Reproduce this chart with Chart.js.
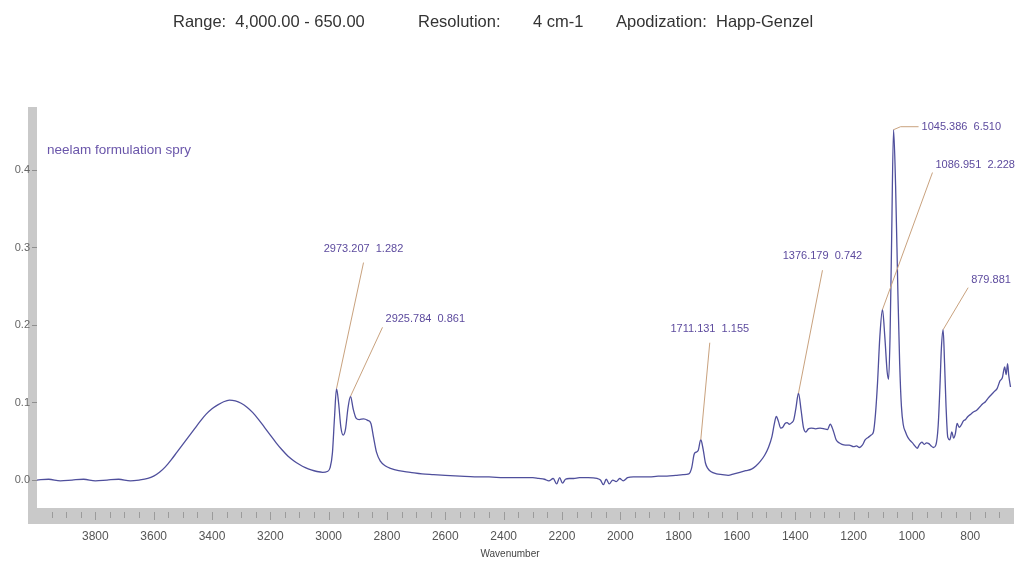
<!DOCTYPE html>
<html>
<head>
<meta charset="utf-8">
<script src="https://cdn.jsdelivr.net/npm/chart.js@4"></script>
<style>
  html, body { margin: 0; padding: 0; background: #fff; }
  #wrap { width: 1015px; height: 565px; }
</style>
</head>
<body>
<div id="wrap"><canvas id="myChart" width="1015" height="565"></canvas></div>
<script>
// spectrum (wavenumber cm-1 / absorbance)
var wavenumbers = [
  4000, 3960, 3920, 3880, 3840, 3800, 3760, 3720, 3680, 3650,
  3620, 3600, 3580, 3560, 3540, 3520, 3500, 3480, 3460, 3440,
  3420, 3400, 3380, 3360, 3340, 3320, 3300, 3280, 3260, 3240,
  3220, 3200, 3180, 3160, 3140, 3120, 3100, 3080, 3060, 3040,
  3020, 3005, 2995, 2987, 2980, 2973, 2966, 2958, 2950, 2942,
  2934, 2925, 2916, 2906, 2895, 2880, 2866, 2855, 2846, 2836,
  2822, 2805, 2788, 2760, 2720, 2680, 2640, 2600, 2550, 2500,
  2450, 2400, 2350, 2300, 2280, 2260, 2245, 2230, 2218, 2208,
  2198, 2188, 2175, 2160, 2140, 2110, 2080, 2068, 2058, 2048,
  2038, 2026, 2014, 2002, 1990, 1975, 1955, 1930, 1900, 1870,
  1840, 1810, 1785, 1765, 1755, 1747, 1740, 1733, 1724, 1716,
  1708, 1700, 1690, 1670, 1650, 1630, 1610, 1590, 1570, 1550,
  1535, 1520, 1505, 1492, 1480, 1472, 1465, 1458, 1450, 1443,
  1435, 1428, 1420, 1412, 1405, 1398, 1389, 1380, 1372, 1364,
  1355, 1345, 1330, 1315, 1300, 1290, 1280, 1270, 1260, 1250,
  1240, 1228, 1215, 1200, 1190, 1180, 1170, 1160, 1150, 1140,
  1132, 1125, 1118, 1110, 1101, 1093, 1085, 1080, 1075, 1070,
  1063, 1056, 1048, 1042, 1036, 1030, 1022, 1014, 1006, 998,
  990, 982, 974, 966, 958, 950, 942, 934, 926, 918,
  910, 904, 899, 893, 888, 883, 877, 870, 863, 857,
  851, 845, 838, 831, 824, 816, 808, 798, 788, 778,
  768, 758, 748, 738, 728, 718, 708, 698, 690, 682,
  677, 672, 668, 662
]
var absorbance = [
  0.000, 0.001, -0.001, 0.000, 0.001, -0.001, 0.000, 0.001, -0.001, 0.000,
  0.002, 0.005, 0.010, 0.017, 0.026, 0.036, 0.046, 0.056, 0.066, 0.076,
  0.085, 0.092, 0.097, 0.101, 0.103, 0.102, 0.099, 0.094, 0.087, 0.078,
  0.068, 0.058, 0.048, 0.039, 0.031, 0.025, 0.020, 0.016, 0.013, 0.011,
  0.010, 0.011, 0.016, 0.035, 0.080, 0.118, 0.100, 0.068, 0.058, 0.066,
  0.092, 0.108, 0.092, 0.080, 0.078, 0.079, 0.077, 0.073, 0.055, 0.036,
  0.024, 0.018, 0.015, 0.012, 0.010, 0.008, 0.007, 0.006, 0.005, 0.004,
  0.004, 0.003, 0.003, 0.003, 0.002, 0.001, -0.001, 0.002, -0.005, 0.003,
  -0.004, 0.001, 0.002, 0.002, 0.003, 0.003, 0.002, 0.000, -0.006, 0.001,
  -0.005, 0.000, -0.002, 0.002, -0.001, 0.003, 0.004, 0.004, 0.004, 0.005,
  0.005, 0.006, 0.007, 0.008, 0.016, 0.033, 0.036, 0.038, 0.052, 0.040,
  0.022, 0.015, 0.011, 0.008, 0.007, 0.006, 0.008, 0.010, 0.012, 0.014,
  0.018, 0.024, 0.032, 0.042, 0.056, 0.072, 0.082, 0.076, 0.067, 0.068,
  0.073, 0.074, 0.072, 0.074, 0.078, 0.092, 0.112, 0.090, 0.068, 0.062,
  0.066, 0.067, 0.066, 0.067, 0.066, 0.065, 0.072, 0.064, 0.052, 0.048,
  0.046, 0.045, 0.045, 0.043, 0.044, 0.042, 0.045, 0.052, 0.055, 0.058,
  0.062, 0.085, 0.125, 0.185, 0.220, 0.185, 0.140, 0.130, 0.185, 0.300,
  0.452, 0.380, 0.240, 0.150, 0.095, 0.072, 0.062, 0.055, 0.051, 0.048,
  0.044, 0.041, 0.046, 0.049, 0.046, 0.048, 0.047, 0.044, 0.042, 0.045,
  0.070, 0.120, 0.170, 0.194, 0.150, 0.095, 0.055, 0.052, 0.062, 0.054,
  0.060, 0.073, 0.068, 0.071, 0.076, 0.078, 0.082, 0.085, 0.088, 0.090,
  0.094, 0.098, 0.101, 0.106, 0.110, 0.114, 0.118, 0.128, 0.132, 0.146,
  0.136, 0.150, 0.135, 0.120
]
var xTickValues = [3800, 3600, 3400, 3200, 3000, 2800, 2600, 2400, 2200, 2000, 1800, 1600, 1400, 1200, 1000, 800]
var yTickValues = [0.0, 0.1, 0.2, 0.3, 0.4]

// peak labels: which data point, label text, where the leader ends (px offset)
var peakAt = [2973, 2925, 1724, 1389, 1063, 1101, 893]
var peakText = ['2973.207  1.282', '2925.784  0.861', '1711.131  1.155', '1376.179  0.742',
  '1045.386  6.510', '1086.951  2.228', '879.881']
var leaderDx = [27, 32, 9, 24, 25, 50, 25]
var leaderDy = [-126, -69, -97, -123, -3, -137, -42]
var labelAlign = ['center', 'left', 'center', 'center', 'left', 'left', 'left']

var points = wavenumbers.map(function (w, i) { return { x: w, y: absorbance[i] } })

var axisGray = '#c9c9c9'
var labelPurple = '#5d4b9e'

var decor = {
  id: 'decor',
  beforeDraw: function (chart) {
    var c = chart.ctx
    var a = chart.chartArea
    var xs = chart.scales.x
    c.save()
    c.fillStyle = '#fff'
    c.fillRect(0, 0, chart.width, chart.height)
    // grey frame: left bar and bottom band
    c.fillStyle = axisGray
    c.fillRect(a.left - 9, a.top, 9, a.bottom - a.top + 17)
    c.fillRect(a.left - 9, a.bottom + 1, a.right - a.left + 9, 16)
    // small ticks in the band every 50
    c.strokeStyle = '#9b9b9b'
    c.lineWidth = 1
    for (var w = 3950; w >= 700; w -= 50) {
      var px = Math.round(xs.getPixelForValue(w)) + 0.5
      c.beginPath()
      c.moveTo(px, a.bottom + 5)
      c.lineTo(px, a.bottom + (w % 200 === 0 ? 13 : 11))
      c.stroke()
    }
    // header line
    c.fillStyle = '#333'
    c.font = '16.5px "Liberation Sans", Arial, sans-serif'
    c.textBaseline = 'middle'
    c.textAlign = 'left'
    c.fillText('Range:  4,000.00 - 650.00', 173, 22)
    c.fillText('Resolution:', 418, 22)
    c.fillText('4 cm-1', 533, 22)
    c.fillText('Apodization:  Happ-Genzel', 616, 22)
    c.restore()
  },
  afterDatasetsDraw: function (chart) {
    var c = chart.ctx
    var xs = chart.scales.x
    var ys = chart.scales.y
    c.save()
    c.font = '11px "Liberation Sans", Arial, sans-serif'
    c.textBaseline = 'middle'
    peakAt.forEach(function (w, i) {
      var k = wavenumbers.indexOf(w)
      var px = xs.getPixelForValue(wavenumbers[k])
      var py = ys.getPixelForValue(absorbance[k])
      var ex = px + leaderDx[i]
      var ey = py + leaderDy[i]
      c.strokeStyle = '#c9a27e'
      c.lineWidth = 1
      c.beginPath()
      c.moveTo(px, py)
      if (labelAlign[i] === 'left' && leaderDx[i] > 20 && Math.abs(leaderDy[i]) < 10) {
        c.lineTo(px + 7, ey)
      }
      c.lineTo(ex, ey)
      c.stroke()
      c.fillStyle = labelPurple
      if (labelAlign[i] === 'center') {
        c.textAlign = 'center'
        c.fillText(peakText[i], ex, ey - 14)
      } else {
        c.textAlign = 'left'
        var dy = Math.abs(leaderDy[i]) < 10 ? 0 : -8
        c.fillText(peakText[i], ex + 3, ey + dy)
      }
    })
    // sample name
    c.fillStyle = '#6a56aa'
    c.font = '13.5px "Liberation Sans", Arial, sans-serif'
    c.textAlign = 'left'
    c.fillText('neelam formulation spry', 47, 150)
    // axis name
    c.fillStyle = '#444'
    c.font = '10px "Liberation Sans", Arial, sans-serif'
    c.textAlign = 'center'
    c.fillText('Wavenumber', 510, 554)
    c.restore()
  }
}

var ctx = document.getElementById('myChart').getContext('2d')
var myChart = new Chart(ctx, {
  type: 'line',
  data: {
    datasets: [
      {
        label: 'neelam formulation spry',
        data: points,
        borderColor: '#4f4f9c',
        borderWidth: 1.3,
        pointRadius: 0,
        cubicInterpolationMode: 'monotone',
        fill: false,
      },
    ],
  },
  options: {
    responsive: false,
    animation: { duration: 0 },
    devicePixelRatio: 1,
    layout: { padding: { top: 107, right: 1, left: 0, bottom: 0 } },
    plugins: {
      legend: { display: false },
      title: { display: false },
      tooltip: { enabled: false },
    },
    scales: {
      x: {
        type: 'linear',
        reverse: true,
        min: 650,
        max: 4000,
        afterFit: function (s) { s.height = 58 },
        afterBuildTicks: function (s) { s.ticks = xTickValues.map(function (v) { return { value: v } }) },
        grid: { drawOnChartArea: false, drawTicks: false },
        border: { display: false },
        ticks: {
          padding: 22,
          maxRotation: 0,
          autoSkip: false,
          color: '#555',
          font: { family: '"Liberation Sans", Arial, sans-serif', size: 12 },
          callback: function (v) { return String(v) },
        },
      },
      y: {
        min: -0.0348,
        max: 0.4813,
        afterFit: function (s) { s.width = 37 },
        afterBuildTicks: function (s) { s.ticks = yTickValues.map(function (v) { return { value: v } }) },
        grid: { drawOnChartArea: false, drawTicks: true, tickLength: 5, color: '#8f8f8f' },
        border: { display: false },
        ticks: {
          padding: 2,
          color: '#666',
          font: { family: '"Liberation Sans", Arial, sans-serif', size: 11 },
          callback: function (v) { return Number(v).toFixed(1) },
        },
      },
    },
  },
  plugins: [decor],
})
</script>
</body>
</html>
